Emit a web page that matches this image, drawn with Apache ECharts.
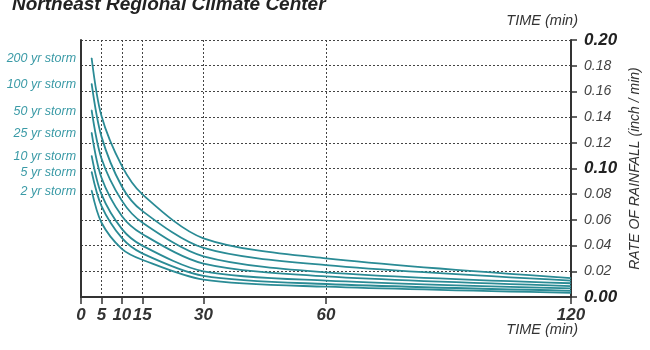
<!DOCTYPE html>
<html>
<head>
<meta charset="utf-8">
<script src="https://cdn.jsdelivr.net/npm/echarts@6/dist/echarts.min.js"></script>
<style>html,body{margin:0;padding:0;background:#fff}#c{width:650px;height:350px}</style>
</head>
<body>
<div id="c"></div>
<script>
const times = [2.6, 5, 10, 15, 30, 60, 120];
const xTicks = [0, 5, 10, 15, 30, 60, 120];
const stormNames = ['200 yr storm', '100 yr storm', '50 yr storm', '25 yr storm', '10 yr storm', '5 yr storm', '2 yr storm'];
const storm200 = [0.186, 0.141, 0.102, 0.080, 0.0457, 0.030, 0.0147];
const storm100 = [0.166, 0.125, 0.086, 0.067, 0.0382, 0.0248, 0.0128];
const storm50  = [0.1455, 0.108, 0.075, 0.058, 0.0317, 0.0192, 0.0107];
const storm25  = [0.128, 0.093, 0.063, 0.049, 0.026, 0.016, 0.0085];
const storm10  = [0.110, 0.080, 0.053, 0.040, 0.020, 0.0128, 0.0067];
const storm5   = [0.0975, 0.071, 0.046, 0.034, 0.0165, 0.0101, 0.0048];
const storm2   = [0.083, 0.058, 0.0375, 0.029, 0.0135, 0.008, 0.0032];
const titleText = 'Northeast Regional Climate Center';
const xName = 'TIME (min)';
const yName = 'RATE OF RAINFALL (inch / min)';

const allSeries = [storm200, storm100, storm50, storm25, storm10, storm5, storm2];
const FONT = '"Liberation Sans Narrow", "Liberation Sans", Arial, sans-serif';
const TEAL = '#2a8b95';

const series = allSeries.map((vals, si) => ({
  type: 'line',
  name: stormNames[si],
  yAxisIndex: 0,
  smooth: 0.3,
  symbol: 'none',
  lineStyle: { color: TEAL, width: 1.8 },
  itemStyle: { color: TEAL },
  clip: false,
  data: vals.map((v, i) => i === 0 ? {
    value: [times[i], v],
    symbol: 'circle', symbolSize: 1,
    label: {
      show: true, position: 'left', distance: 15, offset: [0, 1],
      formatter: stormNames[si],
      color: '#3a9aa6', fontStyle: 'italic', fontSize: 12.5, fontFamily: FONT
    }
  } : [times[i], v])
}));

const chart = echarts.init(document.getElementById('c'), null, { renderer: 'canvas' });
chart.setOption({
  animation: false,
  backgroundColor: '#fff',
  grid: { left: 81, right: 74, top: 40, bottom: 53 },
  graphic: [
    { type: 'text', left: 12, top: -5, style: { text: titleText, font: 'italic bold 19px ' + FONT, fill: '#222' } },
    { type: 'text', right: 72, top: 13, style: { text: xName, font: 'italic 14.5px ' + FONT, fill: '#333' } },
    { type: 'text', right: 72, top: 322, style: { text: xName, font: 'italic 14.5px ' + FONT, fill: '#333' } }
  ],
  xAxis: {
    type: 'value', min: 0, max: 120,
    axisLine: { show: true, onZero: false, lineStyle: { color: '#333', width: 2 } },
    axisTick: { show: true, length: 7, customValues: xTicks, lineStyle: { color: '#333', width: 1.5 } },
    axisLabel: {
      customValues: xTicks, margin: 10,
      color: '#333', fontStyle: 'italic', fontWeight: 'bold', fontSize: 17, fontFamily: FONT
    },
    splitLine: { show: true, lineStyle: { color: '#444', type: [2, 2], width: 1 } }
  },
  yAxis: [
    {
      type: 'value', position: 'right', min: 0, max: 0.2, interval: 0.02,
      name: yName, nameLocation: 'middle', nameRotate: 90, nameGap: 52,
      nameTextStyle: { color: '#333', fontStyle: 'italic', fontSize: 14, fontFamily: FONT },
      axisLine: { show: true, onZero: false, lineStyle: { color: '#333', width: 2 } },
      axisTick: { show: true, inside: false, length: 6, lineStyle: { color: '#333', width: 1.5 } },
      axisLabel: {
        margin: 13,
        formatter: v => {
          const s = v.toFixed(2);
          return (Math.abs(v) < 1e-9 || Math.abs(v - 0.1) < 1e-9 || Math.abs(v - 0.2) < 1e-9) ? '{b|' + s + '}' : '{n|' + s + '}';
        },
        rich: {
          b: { color: '#222', fontStyle: 'italic', fontWeight: 'bold', fontSize: 17, fontFamily: FONT },
          n: { color: '#444', fontStyle: 'italic', fontSize: 14, fontFamily: FONT }
        }
      },
      splitLine: { show: true, lineStyle: { color: '#444', type: [2, 2], width: 1 } }
    },
    {
      type: 'value', position: 'left', min: 0, max: 0.2, interval: 0.02,
      axisLine: { show: true, onZero: false, lineStyle: { color: '#333', width: 2 } },
      axisTick: { show: false }, axisLabel: { show: false }, splitLine: { show: false }
    }
  ],
  series: series
});
</script>
</body>
</html>
